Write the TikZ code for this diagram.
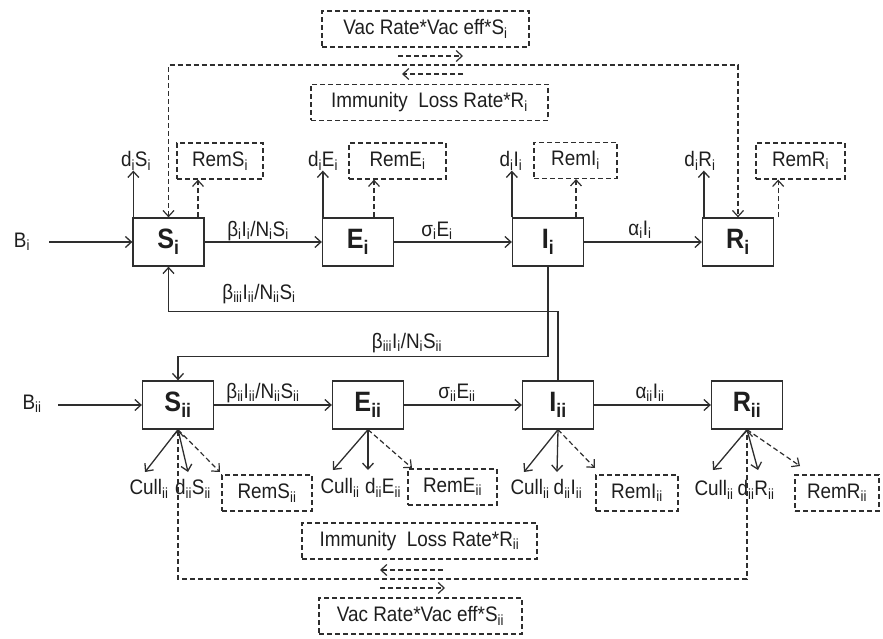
\documentclass[tikz,border=0pt]{standalone}
\usepackage{fontspec}
\setmainfont[FakeStretch=0.9]{Liberation Sans}
\usetikzlibrary{arrows.meta}
\definecolor{lc}{HTML}{2E2E2E}
\definecolor{tc}{HTML}{1E1E1E}
\newcommand\ssub[1]{\textsubscript{#1}}
\tikzset{
  cbox/.style={draw=lc, line width=1.3pt, minimum width=71pt, minimum height=48pt, inner sep=0pt, text=tc, font=\fontsize{28}{30}\selectfont\bfseries},
  dbox/.style={draw=lc, line width=1.2pt, dash pattern=on 5pt off 3pt, minimum height=36pt, inner sep=0pt, text=tc, font=\fontsize{21}{24}\selectfont},
  lab/.style={inner sep=0pt, text=tc, font=\fontsize{21}{24}\selectfont},
  arr/.style={draw=lc, line width=1.3pt, ->},
  darr/.style={draw=lc, line width=1.2pt, dash pattern=on 5pt off 3pt, ->},
  dln/.style={draw=lc, line width=1.2pt, dash pattern=on 5pt off 3pt}
}
\begin{document}
\begin{tikzpicture}[x=1pt,y=-1pt, >={Straight Barb[length=6pt,width=11pt]}]
\useasboundingbox (0,0) rectangle (883,639);
% main compartments
\node[cbox] (Si) at (168.5,242) {S\ssub{i}};
\node[cbox] (Ei) at (358,242) {E\ssub{i}};
\node[cbox] (Ii) at (548,242) {I\ssub{i}};
\node[cbox] (Ri) at (738,242) {R\ssub{i}};
\node[cbox] (Sii) at (178,405) {S\ssub{ii}};
\node[cbox] (Eii) at (368,405) {E\ssub{ii}};
\node[cbox] (Iii) at (558,405) {I\ssub{ii}};
\node[cbox] (Rii) at (747,405) {R\ssub{ii}};

% top vaccination / immunity loss loop
\node[dbox, minimum width=207pt] (vac1) at (425.5,29) {Vac Rate*Vac eff*S\ssub{i}};
\node[dbox, minimum width=237pt] (imm1) at (429.5,102.5) {Immunity\ \ Loss Rate*R\ssub{i}};
\coordinate (va1) at (398,56); \coordinate (va2) at (463,56);
\coordinate (im1) at (463,74); \coordinate (im2) at (402,74);
\draw[darr] (va1) -- (va2);
\draw[darr] (im1) -- (im2);
\coordinate (tl) at (168.5,65); \coordinate (tr) at (738,65);
\draw[dln,<->] (Si.north) -- (tl) -- (tr) -- (Ri.north);

% top row inflow
\node[lab] (Bi) at (22,242) {B\ssub{i}};
\coordinate (bi0) at (49,242);
\draw[arr] (bi0) -- (Si.west);

% top row flows
\draw[arr] (Si) -- (Ei);
\draw[arr] (Ei) -- (Ii);
\draw[arr] (Ii) -- (Ri);
\node[lab] (l1) at (258,231) {β\ssub{i}I\ssub{i}/N\ssub{i}S\ssub{i}};
\node[lab] (l2) at (437,231) {σ\ssub{i}E\ssub{i}};
\node[lab] (l3) at (640,230) {α\ssub{i}I\ssub{i}};

% top row deaths and removals
\node[lab] (dSi) at (136,161) {d\ssub{i}S\ssub{i}};
\node[lab] (dEi) at (323,161) {d\ssub{i}E\ssub{i}};
\node[lab] (dIi) at (511,161) {d\ssub{i}I\ssub{i}};
\node[lab] (dRi) at (700,161) {d\ssub{i}R\ssub{i}};
\draw[arr] ([xshift=1pt]Si.north west) -- ([xshift=1pt]Si.north west |- dSi.south);
\draw[arr] ([xshift=1pt]Ei.north west) -- ([xshift=1pt]Ei.north west |- dEi.south);
\draw[arr] ([xshift=0pt]Ii.north west) -- ([xshift=0pt]Ii.north west |- dIi.south);
\draw[arr] ([xshift=2pt]Ri.north west) -- ([xshift=2pt]Ri.north west |- dRi.south);
\node[dbox, minimum width=86pt] (rSi) at (220,161) {RemS\ssub{i}};
\node[dbox, minimum width=97pt] (rEi) at (397.5,161) {RemE\ssub{i}};
\node[dbox, minimum width=83pt] (rIi) at (575.5,160.5) {RemI\ssub{i}};
\node[dbox, minimum width=89pt] (rRi) at (800.5,161) {RemR\ssub{i}};
\draw[darr] ([xshift=29.5pt]Si.north) -- ([xshift=29.5pt]Si.north |- rSi.south);
\draw[darr] ([xshift=16pt]Ei.north) -- ([xshift=16pt]Ei.north |- rEi.south);
\draw[darr] ([xshift=28pt]Ii.north) -- ([xshift=28pt]Ii.north |- rIi.south);
\draw[darr] ([xshift=4pt]Ri.north east) -- ([xshift=4pt]Ri.north east |- rRi.south);

% cross infection
\draw[arr] (Ii.south) -- ++(0,90) -| (Sii.north);
\draw[arr] (Iii.north) -- ++(0,-69) -| (Si.south);
\node[lab] (x1) at (259,294) {β\ssub{iii}I\ssub{ii}/N\ssub{ii}S\ssub{i}};
\node[lab] (x2) at (407,343) {β\ssub{iii}I\ssub{i}/N\ssub{i}S\ssub{ii}};

% bottom row inflow
\node[lab] (Bii) at (32,404) {B\ssub{ii}};
\coordinate (bii0) at (58,405);
\draw[arr] (bii0) -- (Sii.west);

% bottom row flows
\draw[arr] (Sii) -- (Eii);
\draw[arr] (Eii) -- (Iii);
\draw[arr] (Iii) -- (Rii);
\node[lab] (m1) at (263,393) {β\ssub{ii}I\ssub{ii}/N\ssub{ii}S\ssub{ii}};
\node[lab] (m2) at (457,393) {σ\ssub{ii}E\ssub{ii}};
\node[lab] (m3) at (650,393) {α\ssub{ii}I\ssub{ii}};

% bottom outflows
\node[lab] (cS) at (149,489) {Cull\ssub{ii}};
\node[lab] (dS) at (193,489) {d\ssub{ii}S\ssub{ii}};
\node[dbox, minimum width=90pt] (rS) at (267,493) {RemS\ssub{ii}};
\coordinate (ecS) at (145,472); \coordinate (edS) at (188,472); \coordinate (erS) at (220,472);
\draw[arr] (Sii.south) -- (ecS);
\draw[arr] (Sii.south) -- (edS);
\draw[darr] (Sii.south) -- (erS);

\node[lab] (cE) at (340,488) {Cull\ssub{ii}};
\node[lab] (dE) at (383,488) {d\ssub{ii}E\ssub{ii}};
\node[dbox, minimum width=89pt] (rE) at (452.5,487) {RemE\ssub{ii}};
\coordinate (ecE) at (333,470); \coordinate (edE) at (368,470); \coordinate (erE) at (412,468);
\draw[arr] (Eii.south) -- (ecE);
\draw[arr] (Eii.south) -- (edE);
\draw[darr] (Eii.south) -- (erE);

\node[lab] (cI) at (530,489) {Cull\ssub{ii}};
\node[lab] (dI) at (568,489) {d\ssub{ii}I\ssub{ii}};
\node[dbox, minimum width=82pt] (rI) at (637,493) {RemI\ssub{ii}};
\coordinate (ecI) at (524,472); \coordinate (edI) at (557,472); \coordinate (erI) at (595,468);
\draw[arr] (Iii.south) -- (ecI);
\draw[arr] (Iii.south) -- (edI);
\draw[darr] (Iii.south) -- (erI);

\node[lab] (cR) at (714,490) {Cull\ssub{ii}};
\node[lab] (dR) at (756,490) {d\ssub{ii}R\ssub{ii}};
\node[dbox, minimum width=84pt] (rR) at (837,493) {RemR\ssub{ii}};
\coordinate (ecR) at (713,470); \coordinate (edR) at (758,470); \coordinate (erR) at (800,466);
\draw[arr] (Rii.south) -- (ecR);
\draw[arr] (Rii.south) -- (edR);
\draw[darr] (Rii.south) -- (erR);

% bottom vaccination / immunity loss loop
\node[dbox, minimum width=235pt] (imm2) at (419.5,541) {Immunity\ \ Loss Rate*R\ssub{ii}};
\node[dbox, minimum width=203pt] (vac2) at (420.5,616) {Vac Rate*Vac eff*S\ssub{ii}};
\coordinate (ib1) at (443,570); \coordinate (ib2) at (380,570);
\coordinate (vb1) at (380,588); \coordinate (vb2) at (445,588);
\draw[darr] (ib1) -- (ib2);
\draw[darr] (vb1) -- (vb2);
\coordinate (bl) at (178,579); \coordinate (br) at (747,579);
\draw[dln,<->] (Sii.south) -- (bl) -- (br) -- (Rii.south);
\end{tikzpicture}
\end{document}
